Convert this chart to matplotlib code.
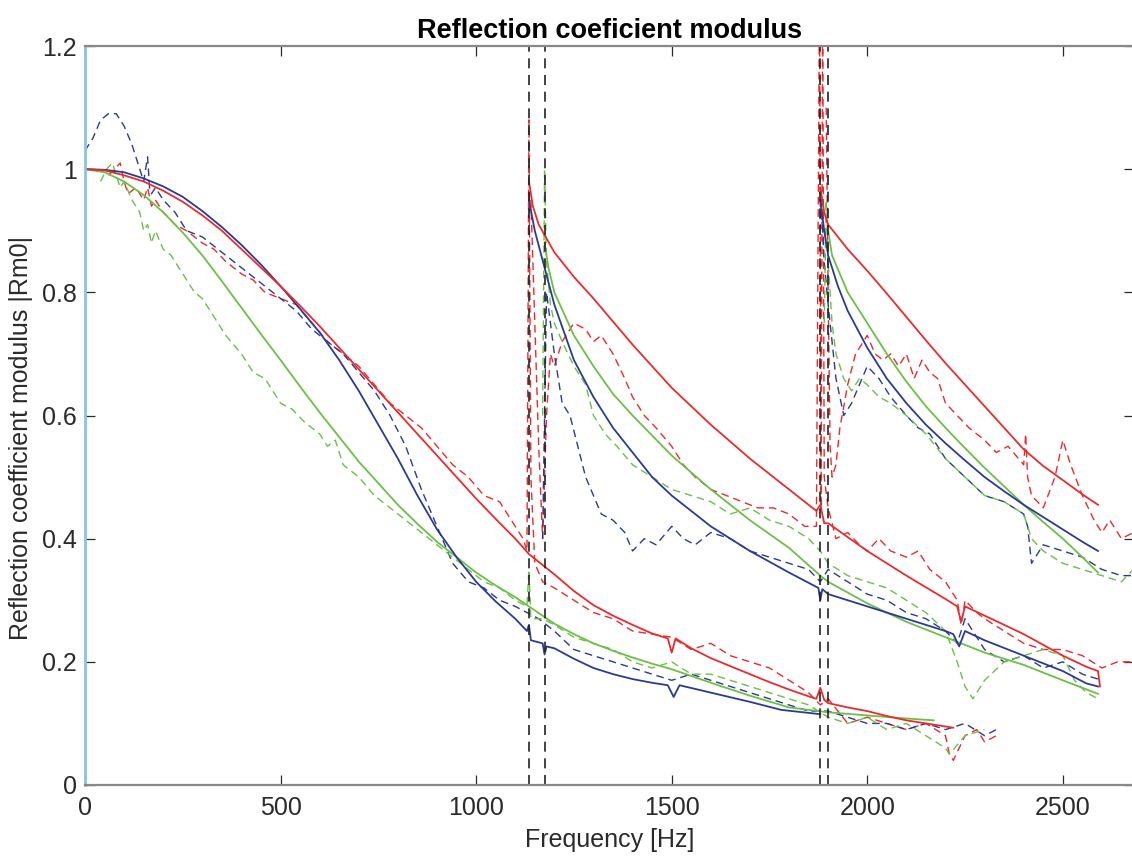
import matplotlib
matplotlib.use("Agg")
import matplotlib.pyplot as plt

plt.rcParams['font.family'] = ['Liberation Sans', 'DejaVu Sans']

# ---------------- data ----------------
# solid (model) curves, 3 colours x 3 modes
rs0_f = [0,50,100,150,200,250,300,350,400,450,500,550,600,650,700,750,800,850,900,950,1000,1050,1100,1135,1200,1250,1300,1350,1400,1450,1490,1500,1510,1550,1600,1650,1700,1750,1800,1850,1870,1880,1890,1900,1950,2000,2050,2100,2150,2200,2220]
rs0_y = [1.0,0.998,0.99,0.98,0.965,0.947,0.925,0.9,0.87,0.84,0.81,0.778,0.745,0.71,0.675,0.64,0.605,0.57,0.535,0.5,0.465,0.432,0.40,0.375,0.342,0.315,0.292,0.275,0.26,0.246,0.238,0.215,0.238,0.222,0.206,0.193,0.18,0.167,0.155,0.144,0.14,0.158,0.138,0.133,0.126,0.12,0.112,0.105,0.1,0.095,0.093]
bs0_f = [0,50,100,150,200,250,300,350,400,450,500,550,600,650,700,750,800,850,900,950,1000,1050,1100,1130,1135,1140,1170,1175,1180,1200,1250,1300,1350,1400,1450,1490,1505,1520,1600,1700,1780,1880]
bs0_y = [1.0,0.999,0.995,0.985,0.972,0.955,0.932,0.906,0.877,0.845,0.81,0.773,0.735,0.69,0.64,0.585,0.53,0.47,0.415,0.37,0.33,0.298,0.27,0.25,0.26,0.235,0.23,0.212,0.225,0.222,0.205,0.19,0.18,0.172,0.166,0.162,0.143,0.162,0.15,0.135,0.122,0.115]
gs0_f = [0,50,100,150,200,250,300,350,400,450,500,550,600,650,700,750,800,850,900,950,1000,1050,1100,1135,1200,1250,1300,1350,1400,1450,1500,1600,1700,1800,1900,2000,2100,2170]
gs0_y = [1.0,0.995,0.98,0.958,0.93,0.897,0.86,0.818,0.775,0.732,0.69,0.647,0.605,0.565,0.525,0.49,0.455,0.424,0.395,0.37,0.345,0.324,0.305,0.29,0.262,0.245,0.23,0.218,0.207,0.197,0.188,0.166,0.145,0.126,0.118,0.113,0.108,0.105]

rs1_f = [1135,1145,1160,1200,1250,1300,1400,1500,1600,1700,1800,1870,1880,1890,1900,2000,2100,2200,2230,2240,2250,2300,2400,2500,2560,2590,2595]
rs1_y = [0.98,0.94,0.91,0.865,0.825,0.79,0.715,0.645,0.585,0.53,0.48,0.445,0.455,0.425,0.425,0.38,0.34,0.302,0.29,0.265,0.29,0.275,0.245,0.21,0.192,0.185,0.16]
bs1_f = [1135,1150,1175,1200,1250,1300,1350,1400,1450,1500,1600,1700,1800,1875,1880,1885,1900,2000,2100,2200,2220,2235,2250,2300,2400,2500,2560,2590]
bs1_y = [0.95,0.90,0.84,0.78,0.69,0.63,0.58,0.54,0.50,0.47,0.42,0.38,0.345,0.32,0.30,0.318,0.31,0.29,0.27,0.25,0.245,0.225,0.25,0.235,0.21,0.185,0.165,0.16]
gs1_f = [1175,1185,1200,1250,1300,1350,1400,1500,1600,1700,1800,1880,1900,2000,2100,2200,2300,2400,2500,2590]
gs1_y = [0.88,0.84,0.80,0.73,0.68,0.635,0.60,0.535,0.48,0.43,0.385,0.34,0.33,0.295,0.265,0.24,0.215,0.195,0.17,0.148]

rs2_f = [1880,1890,1900,1950,2000,2050,2100,2150,2200,2250,2300,2350,2400,2450,2500,2550,2590]
rs2_y = [0.97,0.93,0.91,0.87,0.835,0.798,0.76,0.722,0.685,0.65,0.615,0.58,0.545,0.518,0.495,0.472,0.455]
bs2_f = [1880,1890,1900,1925,1950,2000,2050,2100,2150,2200,2250,2300,2350,2400,2450,2500,2550,2590]
bs2_y = [0.95,0.90,0.86,0.81,0.77,0.71,0.66,0.62,0.585,0.555,0.527,0.50,0.477,0.455,0.435,0.415,0.395,0.38]
gs2_f = [1900,1910,1950,2000,2050,2100,2150,2200,2250,2300,2350,2400,2450,2500,2550,2590]
gs2_y = [0.90,0.86,0.80,0.75,0.70,0.655,0.615,0.58,0.547,0.515,0.485,0.455,0.427,0.40,0.37,0.345]

# dashed (measured) curves
rd0_f = [60,75,90,100,110,130,150,160,170,180,200,230,260,300,330,360,400,430,460,500,540,580,620,660,700,740,780,820,860,900,940,980,1020,1060,1100,1120,1130,1135,1140,1150,1170,1200,1250,1300,1350,1400,1450,1500,1550,1600,1650,1700,1750,1800,1850,1880,1900,1950,2000,2050,2100,2150,2200,2210,2220,2250,2280,2300,2330]
rd0_y = [0.99,1.0,1.01,0.98,0.96,0.97,0.95,0.97,0.94,0.95,0.93,0.91,0.9,0.88,0.87,0.85,0.83,0.82,0.8,0.79,0.78,0.75,0.72,0.7,0.68,0.65,0.62,0.6,0.58,0.55,0.52,0.5,0.47,0.46,0.42,0.4,0.38,1.08,0.5,0.36,0.33,0.32,0.3,0.28,0.27,0.25,0.245,0.24,0.22,0.23,0.21,0.2,0.19,0.17,0.15,0.13,0.14,0.1,0.11,0.1,0.09,0.1,0.08,0.05,0.04,0.08,0.09,0.07,0.08]
rd1_f = [1140,1150,1160,1170,1180,1190,1200,1220,1250,1280,1300,1320,1350,1380,1400,1430,1460,1500,1530,1560,1600,1640,1680,1720,1760,1800,1840,1870,1878,1882,1886,1890,1900,1920,1950,1980,2000,2030,2060,2100,2130,2160,2200,2230,2240,2250,2280,2300,2350,2400,2450,2500,2550,2600,2640,2680]
rd1_y = [0.95,0.75,0.55,0.4,0.6,0.7,0.68,0.72,0.75,0.74,0.72,0.73,0.7,0.66,0.63,0.6,0.58,0.55,0.52,0.5,0.48,0.47,0.46,0.45,0.45,0.44,0.42,0.42,1.3,0.45,1.3,0.5,0.45,0.4,0.41,0.39,0.38,0.4,0.38,0.37,0.38,0.35,0.33,0.3,0.26,0.3,0.28,0.27,0.25,0.23,0.22,0.22,0.21,0.19,0.2,0.2]
rd2_f = [1895,1900,1905,1910,1920,1930,1950,1970,2000,2020,2040,2060,2080,2100,2120,2140,2160,2180,2200,2230,2260,2300,2330,2360,2400,2405,2410,2420,2450,2480,2500,2520,2550,2580,2600,2620,2650,2680]
rd2_y = [1.1,0.8,0.55,0.5,0.52,0.58,0.65,0.7,0.73,0.7,0.69,0.7,0.68,0.7,0.66,0.69,0.67,0.66,0.62,0.6,0.58,0.56,0.54,0.55,0.52,0.57,0.5,0.47,0.45,0.5,0.56,0.52,0.47,0.43,0.41,0.43,0.4,0.41]

bd0_f = [0,20,40,60,80,100,120,140,150,160,165,170,180,200,230,260,300,340,380,420,460,500,540,580,620,660,700,740,780,820,860,900,940,980,1020,1060,1100,1130,1160,1200,1250,1300,1350,1400,1450,1500,1550,1600,1650,1700,1750,1800,1850,1900,1950,2000,2050,2100,2150,2200,2250,2300,2330]
bd0_y = [1.03,1.05,1.08,1.09,1.09,1.07,1.04,1.0,0.98,1.02,0.97,0.96,0.97,0.95,0.93,0.9,0.89,0.87,0.85,0.83,0.81,0.79,0.77,0.74,0.72,0.7,0.67,0.64,0.6,0.55,0.48,0.42,0.36,0.33,0.32,0.3,0.29,0.28,0.27,0.25,0.22,0.21,0.2,0.19,0.18,0.17,0.18,0.17,0.16,0.15,0.14,0.13,0.12,0.12,0.11,0.1,0.1,0.09,0.1,0.09,0.1,0.08,0.09]
bd1_f = [1170,1175,1180,1190,1200,1220,1240,1260,1280,1300,1320,1350,1380,1400,1430,1460,1500,1530,1560,1600,1650,1700,1750,1800,1850,1880,1900,1950,2000,2050,2100,2150,2200,2230,2250,2280,2300,2350,2400,2450,2500,2550,2600]
bd1_y = [0.4,0.6,0.8,0.75,0.7,0.62,0.6,0.55,0.5,0.47,0.44,0.43,0.41,0.38,0.4,0.39,0.42,0.4,0.39,0.41,0.4,0.38,0.37,0.36,0.35,0.33,0.35,0.33,0.31,0.3,0.28,0.27,0.25,0.23,0.27,0.24,0.22,0.2,0.21,0.19,0.2,0.18,0.17]
bd2_f = [1880,1890,1900,1910,1920,1940,1960,1980,2000,2030,2060,2100,2130,2160,2200,2250,2300,2350,2400,2410,2420,2450,2500,2550,2600,2650,2680]
bd2_y = [0.97,0.85,0.78,0.72,0.66,0.6,0.62,0.65,0.68,0.66,0.63,0.6,0.58,0.57,0.53,0.5,0.47,0.46,0.44,0.42,0.36,0.39,0.38,0.37,0.35,0.34,0.34]

gd0_f = [40,55,70,80,90,100,120,140,150,160,170,180,200,220,250,280,300,330,360,400,430,460,500,530,560,600,620,640,660,700,740,780,820,860,900,940,980,1020,1060,1100,1130,1135,1140,1170,1200,1250,1300,1350,1400,1450,1500,1550,1600,1650,1700,1750,1800,1850,1900,1950,2000,2050,2100,2150,2200,2210,2250,2300]
gd0_y = [0.98,1.0,1.01,0.99,0.97,0.98,0.95,0.93,0.9,0.91,0.88,0.9,0.87,0.86,0.83,0.8,0.79,0.76,0.73,0.7,0.67,0.66,0.62,0.61,0.59,0.57,0.55,0.56,0.52,0.5,0.47,0.45,0.43,0.41,0.39,0.37,0.35,0.33,0.32,0.3,0.29,0.35,0.27,0.27,0.26,0.24,0.23,0.22,0.2,0.19,0.2,0.18,0.18,0.17,0.16,0.15,0.14,0.13,0.11,0.1,0.11,0.09,0.1,0.08,0.06,0.05,0.08,0.09]
gd1_f = [1170,1175,1180,1190,1200,1220,1250,1280,1300,1330,1360,1400,1450,1500,1550,1600,1650,1700,1750,1800,1850,1880,1900,1950,2000,2050,2100,2150,2200,2230,2250,2270,2300,2350,2400,2450,2500,2530,2560,2590]
gd1_y = [0.6,1.0,0.85,0.78,0.75,0.72,0.68,0.65,0.6,0.57,0.55,0.52,0.5,0.48,0.47,0.46,0.44,0.45,0.43,0.42,0.4,0.38,0.36,0.34,0.33,0.32,0.3,0.28,0.25,0.2,0.16,0.14,0.17,0.2,0.21,0.22,0.21,0.17,0.15,0.14]
gd2_f = [1890,1895,1900,1910,1920,1940,1960,1980,2000,2030,2060,2100,2150,2200,2250,2300,2350,2400,2420,2450,2500,2550,2600,2650,2680]
gd2_y = [0.75,0.95,0.85,0.75,0.7,0.66,0.64,0.66,0.65,0.63,0.62,0.6,0.57,0.53,0.5,0.47,0.46,0.44,0.4,0.38,0.36,0.35,0.34,0.33,0.35]

vlines_f = [1135, 1175, 1880, 1900]

x_ticks = [0, 500, 1000, 1500, 2000, 2500]
y_ticks = [0, 0.2, 0.4, 0.6, 0.8, 1.0, 1.2]
y_tick_labels = ['0', '0.2', '0.4', '0.6', '0.8', '1', '1.2']

RED = '#ec2a2e'
BLUE = '#2b3a94'
GREEN = '#6cbf47'

# ---------------- figure ----------------
W, H = 1132, 859
fig = plt.figure(figsize=(W / 100, H / 100), dpi=100)
ax = fig.add_axes([85 / W, (H - 785) / H, (1134 - 85) / W, (785 - 46) / H])
ax.set_xlim(0, 2682)
ax.set_ylim(0, 1.2)

dash = (0, (5.5, 3.5))
lw_d = 1.0
lw_s = 1.3

for f, y, c in [(rd0_f, rd0_y, RED), (rd1_f, rd1_y, RED), (rd2_f, rd2_y, RED),
                (bd0_f, bd0_y, BLUE), (bd1_f, bd1_y, BLUE), (bd2_f, bd2_y, BLUE),
                (gd0_f, gd0_y, GREEN), (gd1_f, gd1_y, GREEN), (gd2_f, gd2_y, GREEN)]:
    ax.plot(f, y, color=c, lw=lw_d, linestyle=dash)

for f, y, c in [(gs0_f, gs0_y, GREEN), (gs1_f, gs1_y, GREEN), (gs2_f, gs2_y, GREEN),
                (bs0_f, bs0_y, BLUE), (bs1_f, bs1_y, BLUE), (bs2_f, bs2_y, BLUE),
                (rs0_f, rs0_y, RED), (rs1_f, rs1_y, RED), (rs2_f, rs2_y, RED)]:
    ax.plot(f, y, color=c, lw=lw_s)

for v in vlines_f:
    ax.axvline(v, color='#222222', lw=1.2, linestyle=(0, (6, 4)))

ax.set_xticks(x_ticks)
ax.set_yticks(y_ticks)
ax.set_yticklabels(y_tick_labels)
ax.tick_params(direction='in', length=7, width=0.9, colors='#2a2a2a',
               labelsize=18, top=True, right=True, pad=6)
ax.tick_params(axis='x', pad=8)
for s in ['top', 'bottom', 'right']:
    ax.spines[s].set_color('#888888')
    ax.spines[s].set_linewidth(1.6)
ax.spines['left'].set_color('#8cc3e3')
ax.spines['left'].set_linewidth(2.0)

ax.set_title('Reflection coeficient modulus', fontsize=19.5, fontweight='bold', pad=6)
ax.set_xlabel('Frequency [Hz]', fontsize=18, color='#2a2a2a', labelpad=6)
ax.set_ylabel('Reflection coefficient modulus |Rm0|', fontsize=18, color='#2a2a2a')
ax.yaxis.set_label_coords(-0.05, 0.47)

fig.savefig('out.png', dpi=100)
